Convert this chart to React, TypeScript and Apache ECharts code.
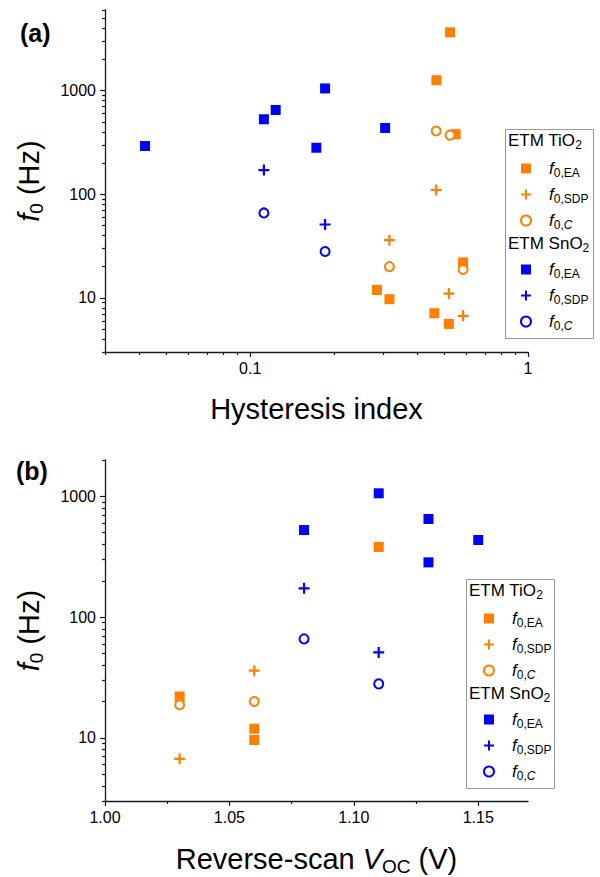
import React, { useEffect, useRef } from 'react';
import * as echarts from 'echarts';

type Pt = [number, number];

// ---------- Panel (a): hysteresis index vs f0 ----------
const aTiO2EA: Pt[] = [[0.286, 11.9], [0.317, 9.7], [0.46, 7.1], [0.519, 5.6], [0.584, 22], [0.549, 380], [0.468, 1260], [0.524, 3650]];
const aTiO2SDP: Pt[] = [[0.317, 36], [0.467, 110], [0.519, 11], [0.584, 6.7]];
const aTiO2C: Pt[] = [[0.317, 20], [0.467, 407], [0.524, 372], [0.584, 18.8]];
const aSnO2EA: Pt[] = [[0.0418, 292], [0.112, 529], [0.1235, 650], [0.173, 281], [0.186, 1050], [0.306, 436]];
const aSnO2SDP: Pt[] = [[0.112, 171], [0.186, 51]];
const aSnO2C: Pt[] = [[0.112, 66], [0.186, 28]];

// ---------- Panel (b): reverse-scan Voc vs f0 ----------
const bTiO2EA: Pt[] = [[1.03, 22], [1.06, 11.9], [1.06, 9.6], [1.11, 381]];
const bTiO2SDP: Pt[] = [[1.03, 6.7], [1.06, 36]];
const bTiO2C: Pt[] = [[1.03, 18.8], [1.06, 20]];
const bSnO2EA: Pt[] = [[1.08, 526], [1.11, 1060], [1.13, 649], [1.13, 284], [1.15, 435]];
const bSnO2SDP: Pt[] = [[1.08, 173], [1.11, 51]];
const bSnO2C: Pt[] = [[1.08, 66], [1.11, 28]];

// ---------- Axis ranges and ticks ----------
const aXRange = [0.03, 1];
const aYRange = [3, 6000];
const bXRange = [1.0, 1.17];
const bYRange = [3, 2000];
const aXMajor = [0.1, 1];
const aXMinor = [0.03, 0.04, 0.05, 0.06, 0.07, 0.08, 0.09, 0.2, 0.3, 0.4, 0.5, 0.6, 0.7, 0.8, 0.9];
const aYMajor = [10, 100, 1000];
const aYMinor = [3, 4, 5, 6, 7, 8, 9, 20, 30, 40, 50, 60, 70, 80, 90, 200, 300, 400, 500, 600, 700, 800, 900, 2000, 3000, 4000, 5000, 6000];
const bXMajor = [1.0, 1.05, 1.1, 1.15];
const bXMinor = [1.025, 1.075, 1.125];
const bYMajor = [10, 100, 1000];
const bYMinor = [3, 4, 5, 6, 7, 8, 9, 20, 30, 40, 50, 60, 70, 80, 90, 200, 300, 400, 500, 600, 700, 800, 900, 2000];

const ORANGE = '#FF8000';
const BLUE = '#0000FF';
const FONT = "'Liberation Sans', Arial, sans-serif";
const AXIS_COLOR = '#1a1a1a';
const PLUS = 'path://M4,0H6V4H10V6H6V10H4V6H0V4H4Z';

const lg = (v: number) => Math.log10(v);

const subRich = {
  f: { fontSize: 17, fontStyle: 'italic', fontFamily: FONT, color: '#000', lineHeight: 20, padding: [0, 0, 0, 13] },
  s: { fontSize: 12, fontFamily: FONT, color: '#000', lineHeight: 12, verticalAlign: 'bottom' },
  si: { fontSize: 12, fontStyle: 'italic', fontFamily: FONT, color: '#000', lineHeight: 12, verticalAlign: 'bottom' },
};

const legendLabel = (name: string) => {
  if (name.endsWith('EA')) return '{f|f}{s|0,EA}';
  if (name.endsWith('SDP')) return '{f|f}{s|0,SDP}';
  return '{f|f}{s|0,}{si|C}';
};

function series(name: string, data: Pt[], kind: 'EA' | 'SDP' | 'C', color: string, xi: number, yi: number) {
  const base: any = { type: 'scatter', name, data, xAxisIndex: xi, yAxisIndex: yi, z: 3 };
  if (kind === 'EA') return { ...base, symbol: 'rect', symbolSize: 10, itemStyle: { color, opacity: 1 } };
  if (kind === 'SDP') return { ...base, symbol: PLUS, symbolSize: 11, itemStyle: { color, opacity: 1 } };
  return { ...base, symbol: 'emptyCircle', symbolSize: 9, itemStyle: { color, borderColor: color, borderWidth: 2, opacity: 1 } };
}

function dataAxis(type: 'log' | 'value', grid: number, range: number[], pos: string, name: string, nameGap: number, rich: any, nameRotate?: number) {
  return {
    type, gridIndex: grid, min: range[0], max: range[1], position: pos,
    axisLine: { show: true, onZero: false, lineStyle: { color: AXIS_COLOR, width: 1.3 } },
    axisTick: { show: false }, axisLabel: { show: false }, splitLine: { show: false },
    name, nameLocation: 'middle', nameGap, nameRotate,
    nameTextStyle: { fontSize: 29, fontFamily: FONT, color: '#000', rich },
  };
}

function tickAxis(grid: number, range: number[], pos: string, ticks: number[], len: number, labels: boolean, fmt?: (v: number) => string, margin = 8) {
  return {
    type: 'value', gridIndex: grid, min: range[0], max: range[1], position: pos,
    axisLine: { show: false, onZero: false },
    axisTick: { show: true, customValues: ticks, length: len, lineStyle: { color: AXIS_COLOR, width: 1.2 } },
    axisLabel: labels
      ? { show: true, customValues: ticks, formatter: fmt, fontSize: 16, fontFamily: FONT, color: '#000', margin }
      : { show: false },
    splitLine: { show: false },
  };
}

const powLabel = (v: number) => String(Math.pow(10, Math.round(v)));

const nameRichY = {
  f: { fontSize: 29, fontStyle: 'italic', fontFamily: FONT, color: '#000', lineHeight: 34 },
  s: { fontSize: 19, fontFamily: FONT, color: '#000', lineHeight: 18, verticalAlign: 'bottom' },
  n: { fontSize: 29, fontFamily: FONT, color: '#000', lineHeight: 34 },
};
const nameRichX = {
  n: { fontSize: 29, fontFamily: FONT, color: '#000', lineHeight: 34 },
  i: { fontSize: 29, fontStyle: 'italic', fontFamily: FONT, color: '#000', lineHeight: 34 },
  s: { fontSize: 19, fontFamily: FONT, color: '#000', lineHeight: 18, verticalAlign: 'bottom' },
};

function legendBlock(names: string[], left: number, top: number) {
  return {
    data: names, orient: 'vertical', left, top, padding: 0, itemWidth: 10, itemHeight: 10, itemGap: 7.5,
    selectedMode: false, formatter: legendLabel, textStyle: { rich: subRich, color: '#000' },
    itemStyle: { opacity: 1 },
  };
}

function legendGraphics(boxLeft: number, boxTop: number) {
  const hdrRich = {
    a: { fontSize: 17, fontFamily: FONT, color: '#000', lineHeight: 20 },
    s: { fontSize: 12, fontFamily: FONT, color: '#000', lineHeight: 12, verticalAlign: 'bottom' },
  };
  return [
    { type: 'rect', left: boxLeft, top: boxTop, shape: { width: 88, height: 209 }, style: { fill: '#fff', stroke: '#9a9a9a', lineWidth: 1 }, z: 1 },
    { type: 'text', left: boxLeft + 3, top: boxTop + 3, style: { text: '{a|ETM TiO}{s|2}', rich: hdrRich }, z: 5 },
    { type: 'text', left: boxLeft + 3, top: boxTop + 106, style: { text: '{a|ETM SnO}{s|2}', rich: hdrRich }, z: 5 },
  ];
}

export default function App() {
  const ref = useRef<HTMLDivElement>(null);
  useEffect(() => {
    if (!ref.current) return;
    const chart = echarts.init(ref.current, undefined, { renderer: 'svg' });
    const option: any = {
      animation: false,
      backgroundColor: '#fff',
      grid: [
        { left: 105, top: 10, width: 423, height: 342 },
        { left: 105, top: 460, width: 423, height: 341 },
      ],
      xAxis: [
        dataAxis('log', 0, aXRange, 'bottom', '{n|Hysteresis index}', 40, nameRichX),
        tickAxis(0, [lg(aXRange[0]), lg(aXRange[1])], 'bottom', aXMajor.map(lg), 5, true, (v) => String(Math.pow(10, Math.round(v)))),
        tickAxis(0, [lg(aXRange[0]), lg(aXRange[1])], 'bottom', aXMinor.map(lg), 3, false),
        dataAxis('value', 1, bXRange, 'bottom', '{n|Reverse-scan }{i|V}{s|OC}{n| (V)}', 41, nameRichX),
        tickAxis(1, bXRange, 'bottom', bXMajor, 5, true, (v) => v.toFixed(2)),
        tickAxis(1, bXRange, 'bottom', bXMinor, 3, false),
      ],
      yAxis: [
        dataAxis('log', 0, aYRange, 'left', '{f|f}{s|0}{n| (Hz)}', 59, nameRichY, 90),
        tickAxis(0, [lg(aYRange[0]), lg(aYRange[1])], 'left', aYMajor.map(lg), 5, true, powLabel, 9),
        tickAxis(0, [lg(aYRange[0]), lg(aYRange[1])], 'left', aYMinor.map(lg), 3, false),
        dataAxis('log', 1, bYRange, 'left', '{f|f}{s|0}{n| (Hz)}', 59, nameRichY, 90),
        tickAxis(1, [lg(bYRange[0]), lg(bYRange[1])], 'left', bYMajor.map(lg), 5, true, powLabel, 9),
        tickAxis(1, [lg(bYRange[0]), lg(bYRange[1])], 'left', bYMinor.map(lg), 3, false),
      ],
      legend: [
        legendBlock(['aTiO2EA', 'aTiO2SDP', 'aTiO2C'], 520, 160),
        legendBlock(['aSnO2EA', 'aSnO2SDP', 'aSnO2C'], 520, 261),
        legendBlock(['bTiO2EA', 'bTiO2SDP', 'bTiO2C'], 483, 610),
        legendBlock(['bSnO2EA', 'bSnO2SDP', 'bSnO2C'], 483, 711),
      ],
      graphic: [
        ...legendGraphics(505, 129),
        ...legendGraphics(466, 579),
        { type: 'text', left: 20, top: 20, style: { text: '(a)', fontSize: 25, fontWeight: 'bold', fontFamily: FONT, fill: '#000' } },
        { type: 'text', left: 16, top: 458, style: { text: '(b)', fontSize: 25, fontWeight: 'bold', fontFamily: FONT, fill: '#000' } },
      ],
      series: [
        series('aTiO2EA', aTiO2EA, 'EA', ORANGE, 0, 0),
        series('aTiO2SDP', aTiO2SDP, 'SDP', ORANGE, 0, 0),
        series('aTiO2C', aTiO2C, 'C', ORANGE, 0, 0),
        series('aSnO2EA', aSnO2EA, 'EA', BLUE, 0, 0),
        series('aSnO2SDP', aSnO2SDP, 'SDP', BLUE, 0, 0),
        series('aSnO2C', aSnO2C, 'C', BLUE, 0, 0),
        series('bTiO2EA', bTiO2EA, 'EA', ORANGE, 3, 3),
        series('bTiO2SDP', bTiO2SDP, 'SDP', ORANGE, 3, 3),
        series('bTiO2C', bTiO2C, 'C', ORANGE, 3, 3),
        series('bSnO2EA', bSnO2EA, 'EA', BLUE, 3, 3),
        series('bSnO2SDP', bSnO2SDP, 'SDP', BLUE, 3, 3),
        series('bSnO2C', bSnO2C, 'C', BLUE, 3, 3),
      ],
    };
    chart.setOption(option);
    return () => chart.dispose();
  }, []);
  return <div ref={ref} style={{ width: 600, height: 877, position: 'absolute', left: 0, top: 0 }} />;
}
